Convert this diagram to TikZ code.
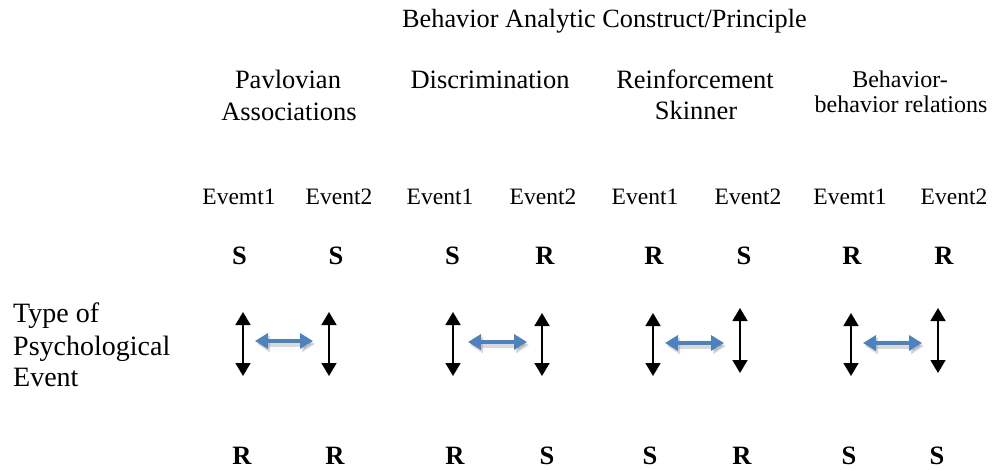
\documentclass[tikz,border=0pt]{standalone}
\usepackage{fontspec}
\setmainfont{Liberation Serif}
\usetikzlibrary{arrows.meta}
\definecolor{arrowblue}{RGB}{79,129,189}
\tikzset{
  txt/.style={inner sep=0pt, anchor=base},
  title/.style={txt, font=\fontsize{26.3}{30}\selectfont},
  head/.style={txt, font=\fontsize{26.5}{30}\selectfont},
  headsmall/.style={txt, font=\fontsize{24}{28}\selectfont},
  evt/.style={txt, font=\fontsize{23.5}{28}\selectfont},
  sr/.style={txt, font=\fontsize{26.5}{30}\selectfont\bfseries},
  side/.style={txt, anchor=base west, font=\fontsize{28}{32}\selectfont},
  varrow/.style={line width=1.6pt, {Triangle[length=13pt,width=15pt]}-{Triangle[length=13pt,width=15pt]}},
  harrow/.style={line width=4.5pt, arrowblue, {Triangle[length=13pt,width=15pt]}-{Triangle[length=13pt,width=15pt]}},
  hshadow/.style={line width=5.5pt, black, opacity=0.15, {Triangle[length=13pt,width=16pt]}-{Triangle[length=13pt,width=16pt]}}
}
\begin{document}
\begin{tikzpicture}[x=1pt,y=-1pt]
\useasboundingbox (0,0) rectangle (1003,470);
% title
\node[title] (title) at (604.5,28) {Behavior Analytic Construct/Principle};
% column headings
\node[head] (pav1) at (288,89) {Pavlovian};
\node[head] (pav2) at (289,121) {Associations};
\node[head] (dis) at (490,89) {Discrimination};
\node[head] (rei1) at (695,89) {Reinforcement};
\node[head] (rei2) at (696,120) {Skinner};
\node[headsmall] (bb1) at (900,88) {Behavior-};
\node[headsmall] (bb2) at (901,113) {behavior relations};
% event labels
\node[evt] (e1) at (239,205) {Evemt1};
\node[evt] (e2) at (339,205) {Event2};
\node[evt] (e3) at (440,205) {Event1};
\node[evt] (e4) at (543,205) {Event2};
\node[evt] (e5) at (645,205) {Event1};
\node[evt] (e6) at (748,205) {Event2};
\node[evt] (e7) at (850,205) {Evemt1};
\node[evt] (e8) at (954,205) {Event2};
% top S/R row
\node[sr] (t1) at (239.5,264) {S};
\node[sr] (t2) at (336,264) {S};
\node[sr] (t3) at (452.5,264) {S};
\node[sr] (t4) at (545,264) {R};
\node[sr] (t5) at (654,264) {R};
\node[sr] (t6) at (744,264) {S};
\node[sr] (t7) at (852,264) {R};
\node[sr] (t8) at (944,264) {R};
% bottom S/R row
\node[sr] (b1) at (242,464) {R};
\node[sr] (b2) at (335,464) {R};
\node[sr] (b3) at (455,464) {R};
\node[sr] (b4) at (547,464) {S};
\node[sr] (b5) at (650,464) {S};
\node[sr] (b6) at (742,464) {R};
\node[sr] (b7) at (849,464) {S};
\node[sr] (b8) at (937,464) {S};
% side label
\node[side] (type1) at (13,322) {Type of};
\node[side] (type2) at (13,355) {Psychological};
\node[side] (type3) at (13,386) {Event};
% vertical arrow end points
\coordinate (v1a) at (243,312); \coordinate (v1b) at (243,376);
\coordinate (v2a) at (329,312); \coordinate (v2b) at (329,376);
\coordinate (v3a) at (453,312); \coordinate (v3b) at (453,376);
\coordinate (v4a) at (542,313); \coordinate (v4b) at (542,376);
\coordinate (v5a) at (653,313); \coordinate (v5b) at (653,376);
\coordinate (v6a) at (740,308); \coordinate (v6b) at (740,373);
\coordinate (v7a) at (851,313); \coordinate (v7b) at (851,376);
\coordinate (v8a) at (938,308); \coordinate (v8b) at (938,373);
\foreach \i in {1,...,8} {\draw[varrow] (v\i a) -- (v\i b);}
% horizontal arrow end points
\coordinate (h1a) at (255,341); \coordinate (h1b) at (313,341);
\coordinate (h2a) at (468,342); \coordinate (h2b) at (527,342);
\coordinate (h3a) at (665,343); \coordinate (h3b) at (724,343);
\coordinate (h4a) at (863,343); \coordinate (h4b) at (922,343);
\foreach \i in {1,...,4} {
  \draw[hshadow] ([shift={(2,3)}]h\i a) -- ([shift={(2,3)}]h\i b);
  \draw[harrow] (h\i a) -- (h\i b);
}
\end{tikzpicture}
\end{document}
